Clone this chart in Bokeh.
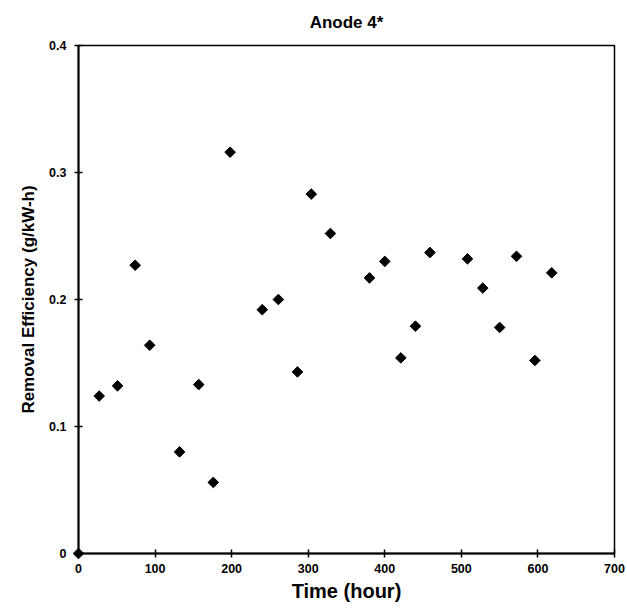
import math
from bokeh.plotting import figure
from bokeh.models import Range1d, FixedTicker, ColumnDataSource
from bokeh.embed import file_html
from bokeh.resources import INLINE

time_hour = [0, 27, 51, 74, 93, 132, 157, 176, 198, 240, 261, 286, 304, 329,
             380, 400, 421, 440, 459, 508, 528, 550, 572, 596, 618]
removal_eff = [0.0, 0.124, 0.132, 0.227, 0.164, 0.080, 0.133, 0.056, 0.316, 0.192,
               0.200, 0.143, 0.283, 0.252, 0.217, 0.230, 0.154, 0.179, 0.237,
               0.232, 0.209, 0.178, 0.234, 0.152, 0.221]
x_ticks = [0, 100, 200, 300, 400, 500, 600, 700]
y_ticks = [0, 0.1, 0.2, 0.3, 0.4]
y_tick_labels = ["0", "0.1", "0.2", "0.3", "0.4"]

FONT = "Liberation Sans"

p = figure(width=627, height=610, output_backend="svg", toolbar_location=None,
           x_range=Range1d(0, 700), y_range=Range1d(0, 0.4),
           min_border_left=78, min_border_right=13, min_border_top=45,
           min_border_bottom=57, title="Anode 4*")

p.title.text_font = FONT
p.title.text_font_style = "bold"
p.title.text_font_size = "17px"
p.title.text_color = "black"
p.title.align = "center"
p.title.vertical_align = "top"
p.title.offset = 0
p.title.standoff = 24

p.xgrid.visible = False
p.ygrid.visible = False
p.outline_line_color = "black"
p.outline_line_width = 1.5
p.background_fill_color = "white"
p.border_fill_color = "white"

src = ColumnDataSource(dict(x=time_hour, y=removal_eff))
p.scatter("x", "y", source=src, marker="square", angle=math.pi / 4, size=7.5,
          fill_color="black", line_color="black", level="overlay")

for ax in (p.xaxis[0], p.yaxis[0]):
    ax.axis_line_width = 2
    ax.axis_line_color = "black"
    ax.major_tick_line_width = 1.5
    ax.major_tick_line_color = "black"
    ax.major_tick_in = 4
    ax.major_tick_out = 4
    ax.minor_tick_line_color = None
    ax.major_label_text_font = FONT
    ax.major_label_text_font_style = "bold"
    ax.major_label_text_font_size = "12.5px"
    ax.major_label_text_color = "black"
    ax.axis_label_text_font = FONT
    ax.axis_label_text_font_style = "bold"
    ax.axis_label_text_color = "black"

p.xaxis.ticker = FixedTicker(ticks=x_ticks)
p.yaxis.ticker = FixedTicker(ticks=y_ticks)
p.yaxis.major_label_overrides = {t: l for t, l in zip(y_ticks, y_tick_labels)}
p.xaxis.axis_label = "Time (hour)"
p.xaxis.axis_label_text_font_size = "20px"
p.xaxis.axis_label_standoff = 4
p.xaxis.major_label_standoff = 6
p.yaxis.axis_label = "Removal Efficiency (g/kW-h)"
p.yaxis.axis_label_text_font_size = "17px"
p.yaxis.axis_label_standoff = 8
p.yaxis.major_label_standoff = 8

open("out.html", "w").write(file_html(p, INLINE))
